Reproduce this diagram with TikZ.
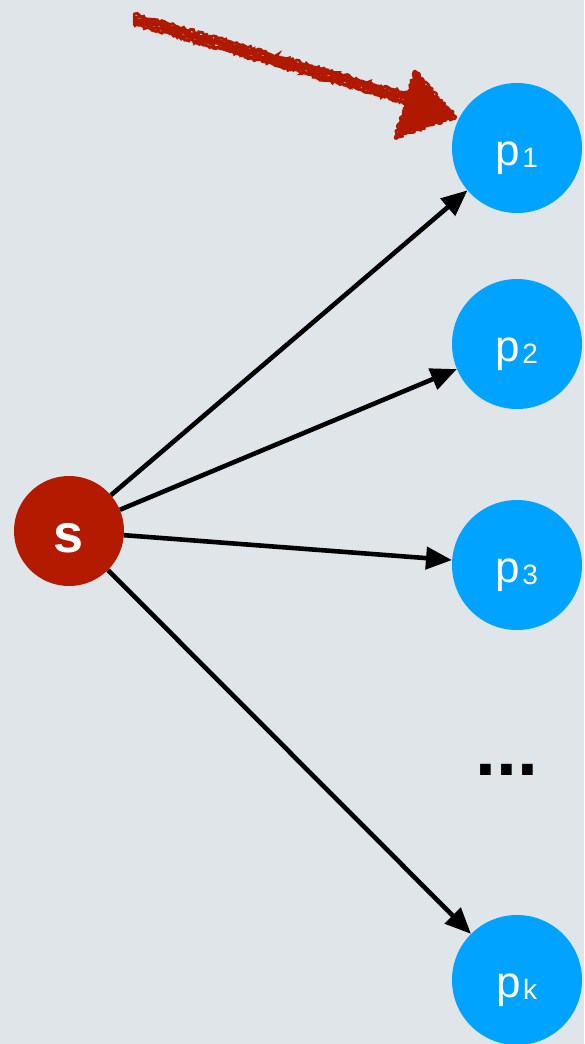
\documentclass[tikz,border=0pt]{standalone}
\usepackage{fontspec}
\setmainfont{Liberation Sans}
\usetikzlibrary{arrows.meta,decorations.pathmorphing}
\definecolor{bgc}{HTML}{DFE5E9}
\definecolor{pblue}{HTML}{00A3FF}
\definecolor{sred}{HTML}{B41A00}
\definecolor{crayon}{HTML}{B01800}
\tikzset{
  pnode/.style={circle, fill=pblue, minimum size=130pt, inner sep=0pt, text=white,
    font=\fontsize{44}{44}\selectfont},
  snode/.style={circle, fill=sred, minimum size=110pt, inner sep=0pt, text=white,
    font=\bfseries\fontsize{54}{54}\selectfont},
  edge/.style={line width=4.6pt, -{Triangle[length=26pt,width=22pt]}},
  rough/.style={crayon, decorate, decoration={random steps, segment length=2pt, amplitude=1.6pt}},
}
% label with its baseline a fixed distance below the node centre
\newcommand{\lowered}[2]{\raisebox{-#1}[0pt][0pt]{#2}}
\newcommand{\plab}[1]{\lowered{17pt}{p\kern2pt\raisebox{-2pt}{\fontsize{28}{28}\selectfont #1}}}
\begin{document}
\begin{tikzpicture}[x=1pt, y=-1pt]
  \fill[bgc] (0,0) rectangle (584,1044);
  \useasboundingbox (0,0) rectangle (584,1044);

  % nodes
  \node[snode] (s) at (69,531) {\lowered{21pt}{s}};
  \node[pnode] (p1) at (517,148) {\plab{1}};
  \node[pnode] (p2) at (517,344) {\plab{2}};
  \node[pnode] (p3) at (517,565) {\plab{3}};
  \node[pnode] (pk) at (517,980) {\plab{k}};
  \node[font=\bfseries\fontsize{75}{75}\selectfont, anchor=base, inner sep=0pt] (dots) at (507,775) {...};

  % connectors
  \draw[edge] (s) -- (p1);
  \draw[edge] (s) -- (p2);
  \draw[edge] (s) -- (p3);
  \draw[edge] (s) -- (pk);

  % hand-drawn pointer towards p1
  \coordinate (a0) at (134,19);
  \coordinate (a1) at (412,100);
  \coordinate (h1) at (415,71);
  \coordinate (h2) at (456,117);
  \coordinate (h3) at (395,138);
  \foreach \dy in {-5,-3,-1,1,3,5} {
    \draw[rough, line width=2.8pt, line cap=round] ([yshift=\dy pt]a0) -- ([yshift=\dy pt]a1);
  }
  \fill[rough] (h1) -- (h2) -- (h3) -- cycle;
  \draw[rough, line width=2.5pt, line join=round] (h1) -- (h2) -- (h3) -- cycle;
\end{tikzpicture}
\end{document}
